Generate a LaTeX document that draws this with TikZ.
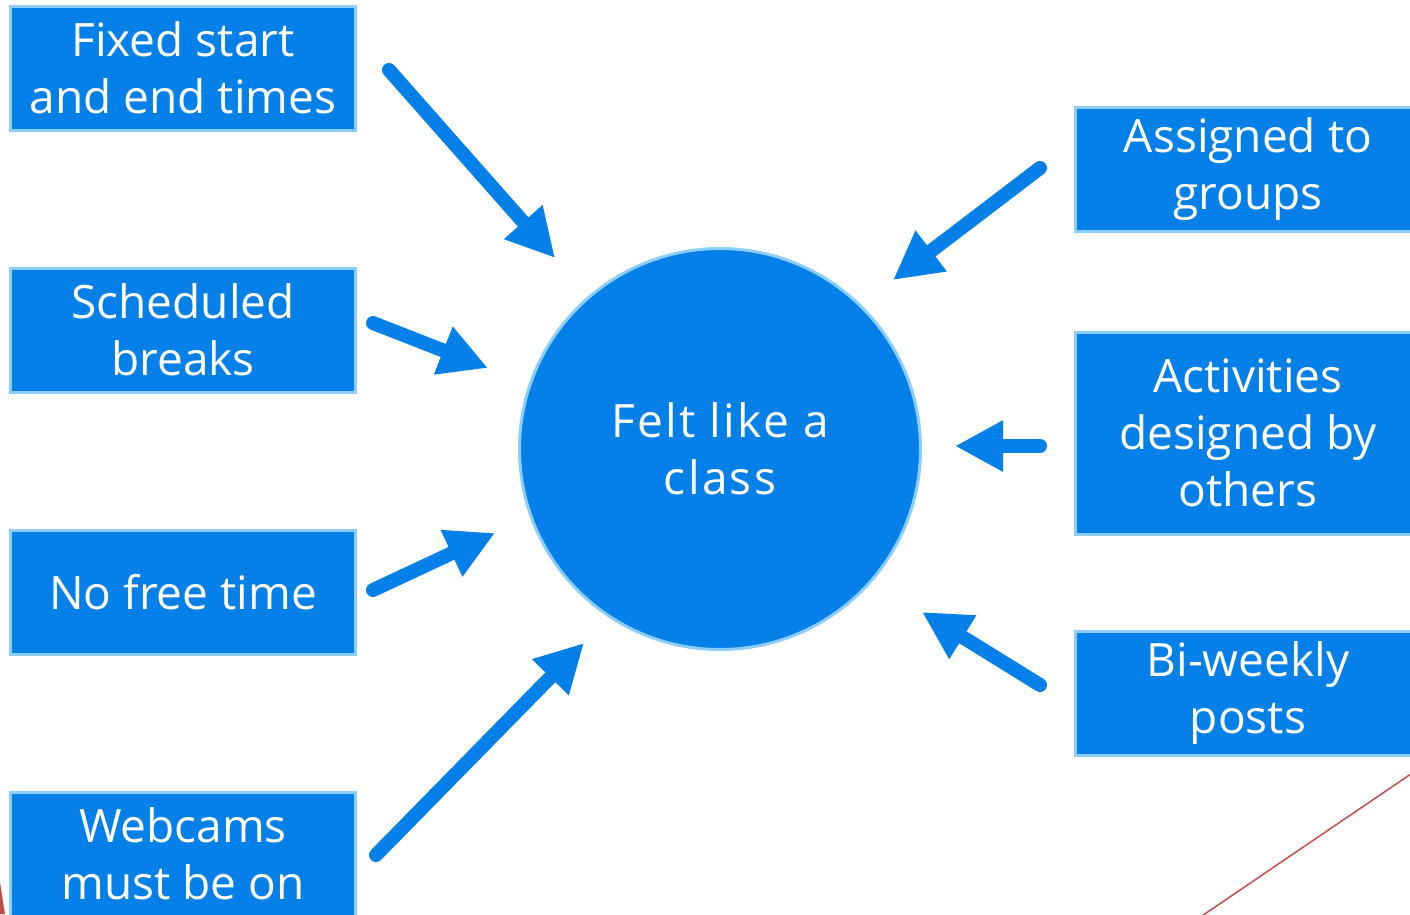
\documentclass[tikz,border=0pt]{standalone}
\usepackage{fontspec}
\setmainfont{Open Sans}
\newfontfamily\hubfont[LetterSpace=5]{Open Sans}
\usetikzlibrary{arrows.meta}
\definecolor{boxblue}{RGB}{5,128,232}
\definecolor{edgeblue}{RGB}{140,205,255}
\definecolor{redline}{RGB}{192,80,77}
\begin{document}
\begin{tikzpicture}[x=1pt,y=-1pt,
  box/.style={draw=edgeblue, line width=3pt, fill=boxblue, text=white,
    minimum width=345pt, minimum height=124pt, align=center, inner sep=0pt,
    font=\fontsize{46}{57}\selectfont},
  hub/.style={circle, draw=edgeblue, line width=3pt, fill=boxblue, text=white,
    minimum size=401pt, align=center, inner sep=0pt,
    font=\hubfont\fontsize{46}{57}\selectfont},
  arr/.style={draw=boxblue, line width=14pt, line cap=round,
    -{Triangle[length=48pt,width=48pt]}}]
\useasboundingbox (0,0) rectangle (1410,914);
\clip (0,0) rectangle (1410,914);
% red decorative lines
\fill[redline] (0,882) -- (5,914) -- (0,914) -- cycle;
\draw[redline, line width=1.5pt] (1430,761) -- (1190,924);
% nodes
\node[hub] (c) at (720,449) {Felt like a\\class};
\node[box] (l1) at (183,68) {Fixed start\\and end times};
\node[box] (l2) at (183,330) {Scheduled\\breaks};
\node[box] (l3) at (183,592) {No free time};
\node[box] (l4) at (183,854) {Webcams\\must be on};
\node[box] (r1) at (1248,169) {Assigned to\\groups};
\node[box, minimum height=202pt] (r2) at (1248,433) {Activities\\designed by\\others};
\node[box] (r3) at (1248,693) {Bi-weekly\\posts};
% arrow ends
\coordinate (s1) at (389,70);   \coordinate (t1) at (555,258);
\coordinate (s2) at (373,323);  \coordinate (t2) at (488,368);
\coordinate (s3) at (373,590);  \coordinate (t3) at (495,533);
\coordinate (s4) at (376,855);  \coordinate (t4) at (584,643);
\coordinate (s5) at (1040,168); \coordinate (t5) at (893,280);
\coordinate (s6) at (1040,446); \coordinate (t6) at (955,446);
\coordinate (s7) at (1040,685); \coordinate (t7) at (922,612);
\foreach \i in {1,...,7} { \draw[arr] (s\i) -- (t\i); }
\end{tikzpicture}
\end{document}
